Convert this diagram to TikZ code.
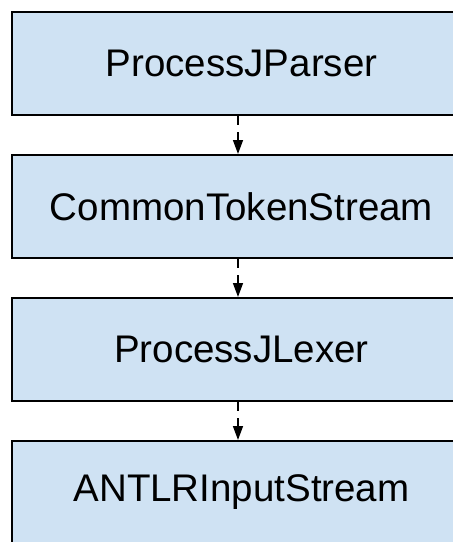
\documentclass[tikz,border=0pt]{standalone}
\usepackage{fontspec}
\setmainfont{Liberation Sans}
\usetikzlibrary{arrows.meta}
\definecolor{boxblue}{HTML}{CFE2F3}
\tikzset{
  classbox/.style={draw=black, fill=boxblue, line width=2pt, minimum width=459pt, minimum height=103pt, inner sep=0pt, font=\fontsize{38.5}{46}\selectfont},
  deparrow/.style={line width=1.5pt, dash pattern=on 9pt off 7pt, -{Triangle[length=14pt,width=10pt]}}
}
\begin{document}
\begin{tikzpicture}[x=1pt,y=1pt]
\useasboundingbox (0,0) rectangle (453,-542);
\clip (0,0) rectangle (453,-542);
\node[classbox] (parser) at (241.5,-63.5) {ProcessJParser};
\node[classbox] (stream) at (241.5,-206.5) {CommonTokenStream};
\node[classbox] (lexer) at (241.5,-349.5) {ProcessJLexer};
\node[classbox] (input) at (241.5,-492.5) {ANTLRInputStream};
\draw[deparrow] ([xshift=-3.5pt]parser.south) -- ([xshift=-3.5pt]stream.north);
\draw[deparrow] ([xshift=-3.5pt]stream.south) -- ([xshift=-3.5pt]lexer.north);
\draw[deparrow] ([xshift=-3.5pt]lexer.south) -- ([xshift=-3.5pt]input.north);
\end{tikzpicture}
\end{document}
